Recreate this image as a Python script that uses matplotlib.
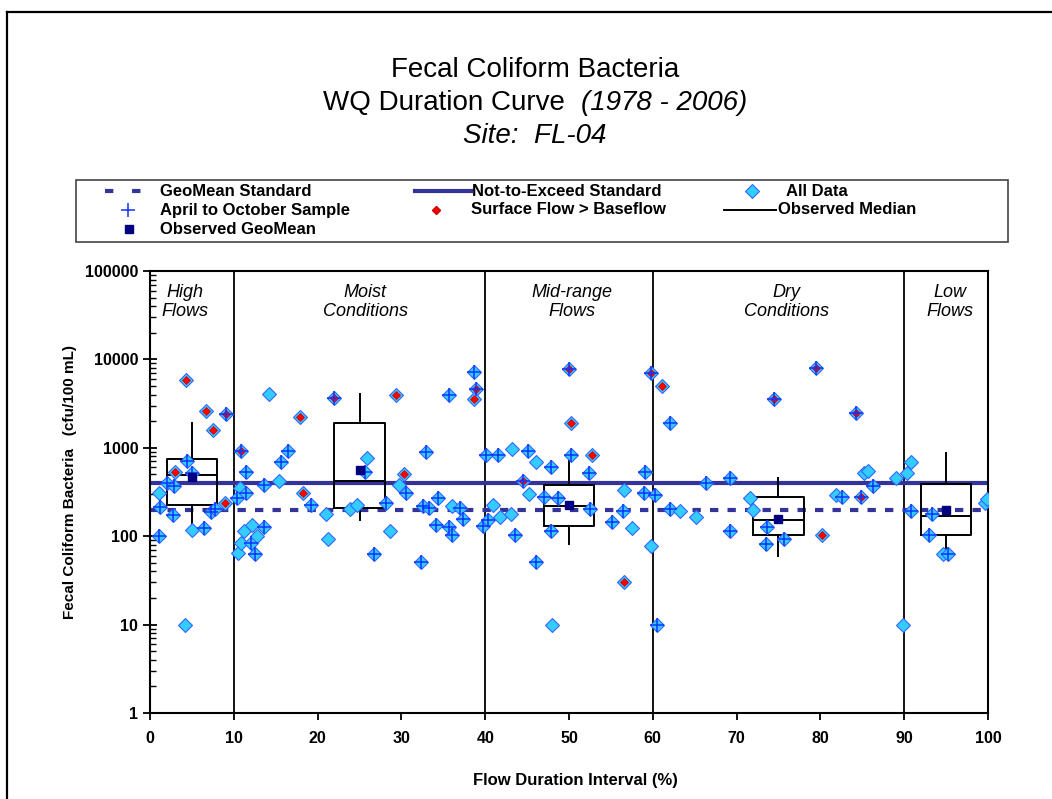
import numpy as np
import matplotlib
matplotlib.use("Agg")
import matplotlib.pyplot as plt
from matplotlib.lines import Line2D
from matplotlib.patches import Rectangle
from matplotlib.ticker import FixedLocator, FuncFormatter, LogLocator, NullFormatter
from matplotlib import transforms

plt.rcParams['font.family'] = ['Liberation Sans', 'DejaVu Sans']

W, H = 1052, 799

# every sample: flow duration interval (%) and fecal coliform (cfu/100 mL)
flow_pct = [1.1, 1.2, 1.1, 2.0, 2.8, 2.9, 3.0, 4.3, 4.2, 4.4, 5.0, 5.0, 6.4, 6.7, 7.5, 7.3, 7.8, 9.1, 9.0,
            10.8, 11.4, 10.7, 10.4, 11.4, 10.5, 10.8, 11.2, 12.2, 12.0,
            12.5, 12.8, 13.6, 13.6, 14.2, 15.4, 15.6, 16.5, 17.9, 18.3,
            19.2, 21.0, 21.3, 21.9, 23.9, 24.7, 25.9, 25.6, 26.7, 28.2,
            28.6, 29.4, 30.3, 29.7, 30.5, 32.9, 32.6, 33.3, 32.3, 34.1,
            34.4, 35.7, 35.7, 36.0, 36.0, 37.0, 37.4, 38.7, 38.9, 38.7, 39.7,
            40.3, 40.1, 41.5, 40.9, 41.8, 43.1, 43.2, 43.5, 44.5, 45.1,
            45.2, 46.1, 46.1, 47.0, 47.8, 47.8, 48.0, 48.7, 50.0, 50.2,
            50.2, 52.8, 52.4, 52.5, 55.1, 56.4, 56.6, 56.6, 57.5, 59.0, 59.1, 59.8, 59.8,
            60.3, 60.5, 61.1, 62.0, 62.1, 63.2, 65.1, 66.3, 69.2, 69.2,
            71.6, 72.0, 73.6, 73.5, 75.6, 74.5, 79.5, 80.2, 81.9, 82.6,
            84.2, 84.8, 85.2, 85.7, 86.3, 89.0,
            89.9, 90.3, 90.8, 90.8, 93.3, 92.9, 94.6, 95.2, 99.7, 99.9]
fecal_cfu = [100, 215, 310, 400, 175, 370, 530, 5900, 10, 700, 525, 118, 125, 2640, 1610, 190, 205, 2400, 240,
             920, 536, 350, 274, 307, 64, 83, 116, 135, 84,
             63, 100, 126, 382, 4070, 422, 684, 925, 2240, 312,
             227, 178, 94, 3620, 204, 227, 770, 537, 63, 237,
             116, 3970, 500, 380, 307, 890, 217, 208, 51, 135,
             270, 3970, 126, 217, 104, 208, 156, 7250, 4650, 3580, 130,
             154, 830, 830, 227, 163, 178, 980, 104, 422, 920,
             302, 684, 51, 277, 610, 114, 10, 270, 7770, 1920,
             830, 830, 524, 204, 145, 195, 30, 333, 124, 307, 537, 7080, 77,
             294, 10, 5010, 1910, 204, 195, 167, 400, 455, 116,
             270, 199, 126, 82, 93, 3580, 7940, 104, 289, 275,
             2500, 275, 524, 550, 371, 460,
             10, 515, 684, 195, 178, 104, 63, 63, 237, 265]
# 1 = April to October sample
apr_oct = [1, 1, 0, 1, 1, 1, 0, 0, 0, 1, 1, 0, 1, 0, 0, 1, 1, 1, 0,
           1, 1, 0, 1, 1, 0, 0, 0, 0, 1,
           1, 0, 1, 1, 0, 0, 1, 1, 0, 0,
           1, 0, 0, 1, 0, 0, 0, 1, 1, 1,
           0, 0, 0, 0, 1, 1, 1, 1, 1, 1,
           1, 1, 1, 0, 1, 1, 1, 1, 1, 0, 1,
           1, 1, 1, 0, 0, 0, 0, 1, 1, 1,
           0, 0, 1, 1, 1, 1, 0, 1, 1, 0,
           1, 0, 1, 1, 1, 1, 0, 0, 0, 1, 1, 1, 0,
           1, 1, 0, 1, 1, 0, 0, 1, 1, 1,
           0, 0, 1, 1, 1, 1, 1, 0, 0, 1,
           1, 1, 0, 0, 1, 0,
           0, 0, 0, 1, 1, 1, 0, 1, 0, 0]
# 1 = surface flow > baseflow
surface_flow = [0, 0, 0, 0, 0, 0, 1, 1, 0, 0, 0, 0, 0, 1, 1, 0, 0, 1, 1,
                1, 0, 0, 0, 0, 0, 0, 0, 0, 0,
                0, 0, 0, 0, 0, 0, 0, 0, 1, 1,
                0, 0, 0, 1, 0, 0, 0, 0, 0, 0,
                0, 1, 1, 0, 0, 0, 0, 0, 0, 0,
                0, 0, 0, 0, 0, 0, 0, 0, 1, 1, 0,
                0, 0, 0, 0, 0, 0, 0, 0, 1, 0,
                0, 0, 0, 0, 0, 0, 0, 0, 1, 1,
                0, 1, 0, 0, 0, 0, 1, 0, 0, 0, 0, 1, 0,
                0, 0, 1, 0, 0, 0, 0, 0, 0, 0,
                0, 0, 0, 0, 0, 1, 1, 1, 0, 0,
                1, 1, 0, 0, 0, 0,
                0, 0, 0, 0, 0, 0, 0, 0, 0, 0]

# box plot per flow zone
box_pos = [5, 25, 50, 75, 95]
box_whislo = [135, 154, 81, 60, 65]
box_q1 = [223, 208, 129, 104, 102]
box_med = [494, 422, 217, 152, 168]
box_q3 = [740, 1910, 381, 275, 388]
box_whishi = [1910, 4070, 760, 452, 865]
obs_geomean = [465, 560, 227, 158, 200]

geomean_std = 200
nte_std = 400

zone_edges = [10, 40, 60, 90]
zone_labels = ["High\nFlows", "Moist\nConditions", "Mid-range\nFlows", "Dry\nConditions", "Low\nFlows"]
zone_label_x = [4.2, 25.7, 50.3, 76, 95.5]

x = np.array(flow_pct)
y = np.array(fecal_cfu)
apr = np.array(apr_oct) == 1
surf = np.array(surface_flow) == 1

fig = plt.figure(figsize=(W / 100, H / 100), dpi=100)
ax = fig.add_axes([150 / W, 1 - 713 / H, 838 / W, 442 / H])

navy = '#333399'
ax.axhline(nte_std, color=navy, lw=3, zorder=2)
ax.axhline(geomean_std, color=navy, lw=3, ls=(0, (2, 2.2)), zorder=2)

for e in zone_edges:
    ax.axvline(e, color='black', lw=1.3, zorder=1)

stats = []
for i in range(len(box_pos)):
    stats.append(dict(whislo=box_whislo[i], q1=box_q1[i], med=box_med[i],
                      q3=box_q3[i], whishi=box_whishi[i], fliers=[]))
line_kw = dict(color='black', lw=1.4)
ax.bxp(stats, positions=box_pos, widths=6, showcaps=False, showfliers=False,
       boxprops=line_kw, whiskerprops=line_kw, medianprops=line_kw, manage_ticks=False)

ax.plot(x, y, ls='none', marker='D', ms=6.8, mfc='#33CCFF', mec='#3366FF', mew=0.8, zorder=4)
ax.plot(x[surf], y[surf], ls='none', marker='D', ms=3.6, mfc='#FF0000', mec='#CC0000', mew=0.5, zorder=5)
ax.plot(x[apr], y[apr], ls='none', marker='+', ms=10, mew=1.1, color='#1133FF', zorder=6)
ax.plot(box_pos, obs_geomean, ls='none', marker='s', ms=5.5, color='#000080', zorder=7)

trans = transforms.blended_transform_factory(ax.transData, ax.transAxes)
for lx, lab in zip(zone_label_x, zone_labels):
    ax.text(lx, 0.97, lab, transform=trans, ha='center', va='top', fontsize=13,
            style='italic', linespacing=1.15, zorder=8)

ax.set_yscale('log')
ax.set_ylim(1, 100000)
ax.set_xlim(0, 100)
ax.xaxis.set_major_locator(FixedLocator(np.arange(0, 101, 10)))
ax.yaxis.set_major_locator(LogLocator(base=10, numticks=10))
ax.yaxis.set_minor_locator(LogLocator(base=10, subs=np.arange(2, 10), numticks=10))
ax.yaxis.set_major_formatter(FuncFormatter(lambda v, p: f"{v:.0f}"))
ax.yaxis.set_minor_formatter(NullFormatter())
ax.tick_params(axis='y', which='major', direction='inout', length=10, width=1.3)
ax.tick_params(axis='y', which='minor', direction='in', length=4, width=1)
ax.tick_params(axis='x', which='major', direction='out', length=5, width=1.3, pad=8)
for lab in ax.get_xticklabels() + ax.get_yticklabels():
    lab.set_fontweight('bold')
    lab.set_fontsize(11.5)
for s in ax.spines.values():
    s.set_linewidth(1.5)

ax.set_xlabel("Flow Duration Interval (%)", fontsize=12, fontweight='bold')
ax.set_ylabel("Fecal Coliform Bacteria   (cfu/100 mL)", fontsize=11, fontweight='bold')
ax.xaxis.set_label_coords((575 - 150) / 838, -(773 - 713) / 442)
ax.yaxis.set_label_coords((77 - 150) / 838, (713 - 482) / 442)

# titles
fig.text(535 / W, 1 - 70 / H, "Fecal Coliform Bacteria", ha='center', va='center', fontsize=20)
t1 = fig.text(0, 1 - 103 / H, "WQ Duration Curve  ", ha='left', va='center', fontsize=20)
t2 = fig.text(0, 1 - 103 / H, "(1978 - 2006)", ha='left', va='center', fontsize=20, style='italic')
r = fig.canvas.get_renderer()
w1 = t1.get_window_extent(r).width
w2 = t2.get_window_extent(r).width
start = 535 - (w1 + w2) / 2
t1.set_x(start / W)
t2.set_x((start + w1) / W)
fig.text(535 / W, 1 - 136 / H, "Site:  FL-04", ha='center', va='center', fontsize=20, style='italic')

# legend box drawn in figure pixels
def fx(px):
    return px / W

def fy(py):
    return 1 - py / H

fig.add_artist(Rectangle((fx(76), fy(242)), fx(1008) - fx(76), fy(180) - fy(242),
                         transform=fig.transFigure, fill=False, ec='#444444', lw=1.2))
rows = [191, 210, 229]
leg_font = dict(fontsize=12, fontweight='bold', va='center', ha='left')
fig.add_artist(Line2D([fx(105), fx(157)], [fy(rows[0])] * 2, color=navy, lw=3, ls=(0, (2, 4.5))))
fig.text(fx(160), fy(rows[0]), "GeoMean Standard", **leg_font)
fig.add_artist(Line2D([fx(128)], [fy(rows[1])], marker='+', ms=10, mew=1.1, color='#1133FF'))
fig.text(fx(160), fy(rows[1]), "April to October Sample", **leg_font)
fig.add_artist(Line2D([fx(129)], [fy(rows[2])], marker='s', ms=5.5, color='#000080'))
fig.text(fx(160), fy(rows[2]), "Observed GeoMean", **leg_font)
fig.add_artist(Line2D([fx(415), fx(471)], [fy(rows[0])] * 2, color=navy, lw=3))
fig.text(fx(472), fy(rows[0]), "Not-to-Exceed Standard", **leg_font)
fig.add_artist(Line2D([fx(436)], [fy(rows[1])], marker='D', ms=3.6, mfc='#FF0000', mec='#CC0000'))
fig.text(fx(471), fy(rows[1]), "Surface Flow > Baseflow", **leg_font)
fig.add_artist(Line2D([fx(752)], [fy(rows[0])], marker='D', ms=6.8, mfc='#33CCFF', mec='#3366FF', mew=0.8))
fig.text(fx(786), fy(rows[0]), "All Data", **leg_font)
fig.add_artist(Line2D([fx(724), fx(776)], [fy(rows[1])] * 2, color='black', lw=1.4))
fig.text(fx(778), fy(rows[1]), "Observed Median", **leg_font)

# chart border (only top and left are inside the picture)
fig.add_artist(Line2D([fx(7), fx(7)], [0, fy(12)], color='black', lw=1.6))
fig.add_artist(Line2D([fx(7), 1], [fy(12), fy(12)], color='black', lw=1.6))

fig.savefig("out.png", dpi=100)
